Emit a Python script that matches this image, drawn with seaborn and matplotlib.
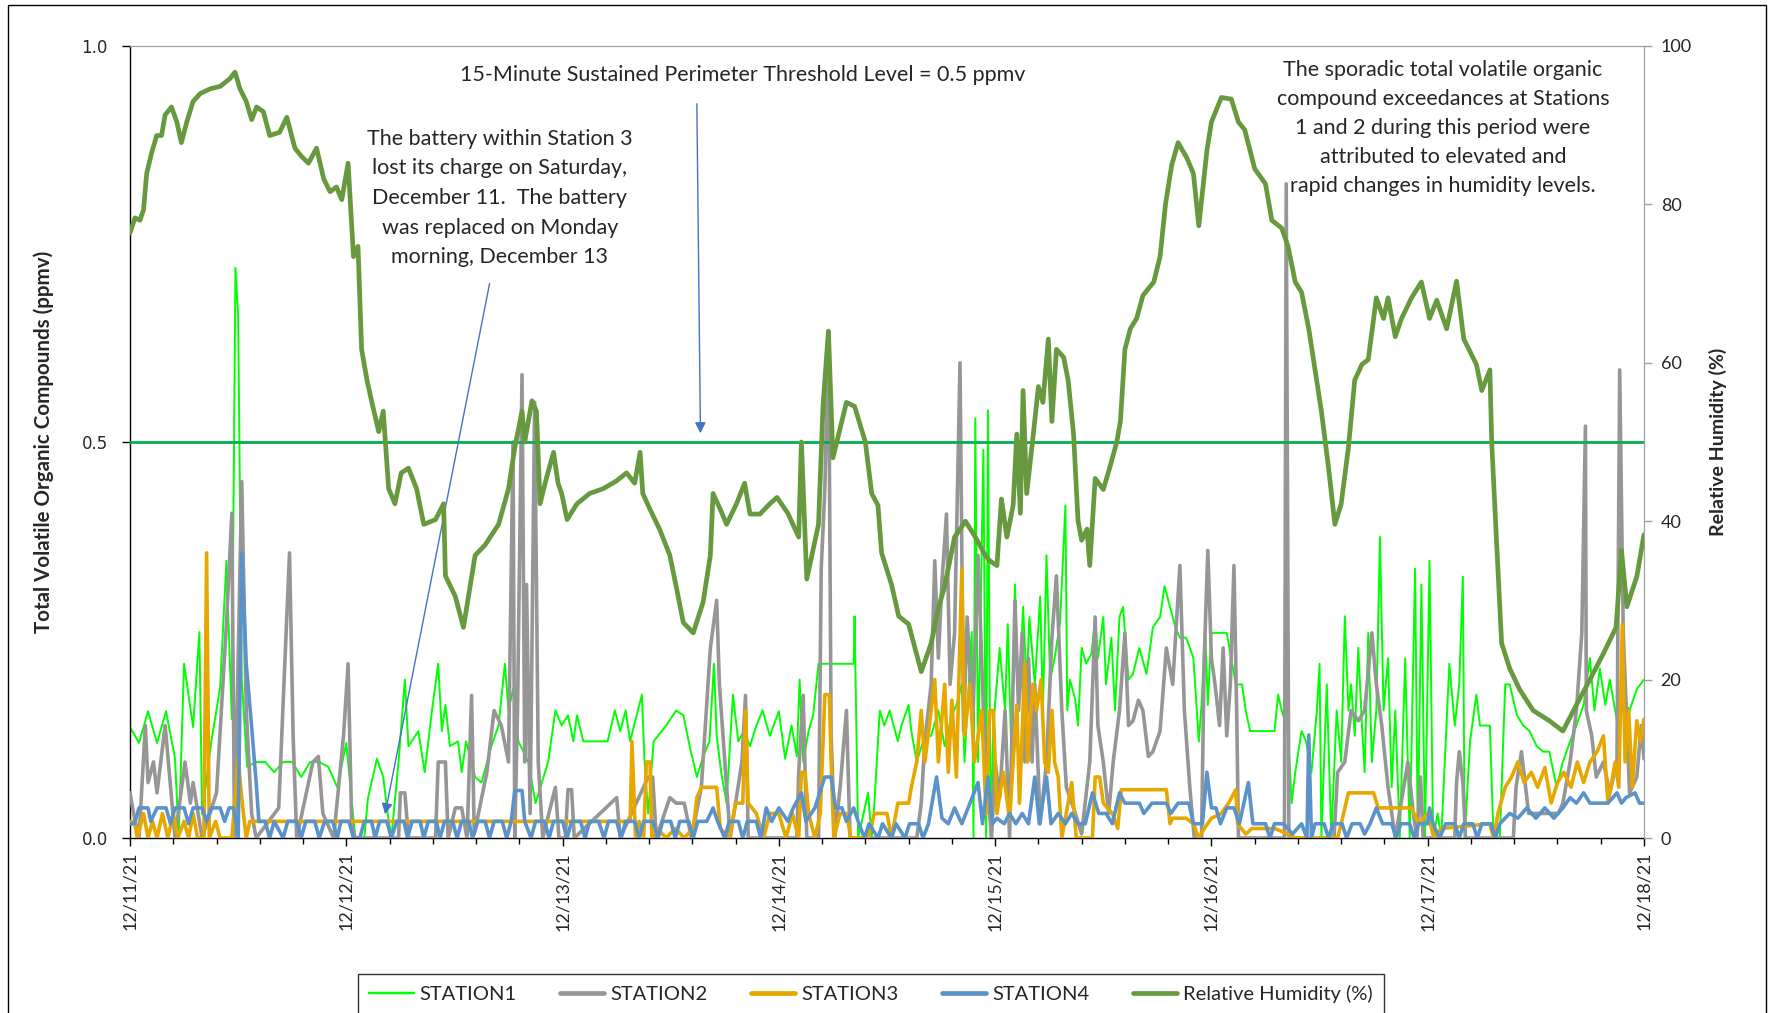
import matplotlib
matplotlib.use("Agg")
import matplotlib.pyplot as plt
from matplotlib.lines import Line2D
from matplotlib.patches import Rectangle
import pandas as pd
import seaborn as sns

sns.set_style("white")
plt.rcParams['font.family'] = ['Lato', 'DejaVu Sans']

# ---------------- data (hours after 12/11/21 00:00, value) ----------------
date_labels = ['12/11/21', '12/12/21', '12/13/21', '12/14/21',
               '12/15/21', '12/16/21', '12/17/21', '12/18/21']
threshold = 0.5

station1 = [
    (0, 0.14), (1, 0.12), (2, 0.16), (3, 0.12), (4, 0.16), (5, 0.10), (5.4, 0.0), (6, 0.22),
    (7, 0.14), (7.7, 0.26), (8, 0.03), (9, 0.12), (10, 0.19), (10.7, 0.35), (11.3, 0.15),
    (11.7, 0.72), (12, 0.66), (12.4, 0.20), (13, 0.09), (14, 0.096), (15, 0.096), (16, 0.083),
    (17, 0.096), (18, 0.096), (19, 0.077), (20, 0.096), (21, 0.096), (22, 0.09), (23, 0.064),
    (24, 0.12), (25, 0.0), (26, 0.0), (26.4, 0.05), (27.4, 0.10), (28.1, 0.077), (28.6, 0.03),
    (29, 0.0), (29.8, 0.096), (30.5, 0.20), (30.9, 0.116), (32, 0.135), (32.7, 0.083),
    (33.5, 0.16), (34.2, 0.22), (34.6, 0.135), (35, 0.168), (35.5, 0.116), (36.4, 0.122),
    (36.8, 0.083), (37.3, 0.122), (38.3, 0.077), (39, 0.07), (40.1, 0.116), (40.9, 0.142),
    (41.6, 0.22), (42, 0.161), (42.5, 0.188), (43.1, 0.122), (44.2, 0.096), (45, 0.044),
    (45.7, 0.07), (46.4, 0.096), (47.2, 0.161), (47.9, 0.142), (48.6, 0.155), (49.2, 0.122),
    (49.6, 0.155), (50.3, 0.122), (53, 0.122), (53.8, 0.161), (54.4, 0.135), (55, 0.161),
    (55.5, 0.122), (56.8, 0.181), (57.1, 0.096), (57.5, 0.031), (58.1, 0.122), (59.5, 0.142),
    (60.6, 0.161), (61.4, 0.155), (62.1, 0.116), (62.9, 0.077), (63.6, 0.103), (64.3, 0.122),
    (64.8, 0.22), (65.1, 0.129), (65.6, 0.083), (66.2, 0.044), (66.9, 0.181), (67.5, 0.122),
    (68.1, 0.135), (68.8, 0.116), (69.5, 0.142), (70.2, 0.161), (71, 0.129), (72, 0.16),
    (72.7, 0.10), (73.4, 0.142), (74, 0.103), (74.3, 0.20), (74.7, 0.096), (75.3, 0.135),
    (75.8, 0.155), (76.4, 0.22), (80.3, 0.22), (80.4, 0.28), (80.8, 0.0), (81.9, 0.057),
    (82.3, 0.0), (82.6, 0.044), (83.2, 0.161), (83.7, 0.142), (84.3, 0.161), (85.2, 0.122),
    (85.6, 0.142), (86.4, 0.168), (86.7, 0.135), (87.3, 0.096), (88.2, 0.129), (88.9, 0.129),
    (89.7, 0.161), (90.4, 0.116), (91.2, 0.155), (91.7, 0.168), (92.3, 0.194), (92.6, 0.096),
    (93.4, 0.26), (93.6, 0.0), (93.8, 0.53), (94.1, 0.096), (94.7, 0.49), (95, 0.0),
    (95.2, 0.54), (95.5, 0.0), (95.8, 0.142), (96.5, 0.24), (97.1, 0.161), (97.4, 0.27),
    (97.8, 0.109), (98.2, 0.32), (98.6, 0.161), (99.1, 0.292), (99.5, 0.194), (99.8, 0.279),
    (100.4, 0.194), (101, 0.305), (101.3, 0.161), (101.7, 0.357), (102.1, 0.2), (102.6, 0.227),
    (103.2, 0.272), (103.8, 0.42), (104, 0.161), (104.3, 0.2), (104.9, 0.174), (105.2, 0.142),
    (105.6, 0.24), (106.1, 0.22), (106.7, 0.233), (107.1, 0.279), (107.4, 0.227), (108, 0.279),
    (108.3, 0.194), (108.9, 0.253), (109.3, 0.161), (109.8, 0.279), (110.2, 0.292),
    (110.8, 0.2), (111.3, 0.207), (112, 0.24), (112.8, 0.207), (113.5, 0.266), (114.3, 0.279),
    (114.8, 0.318), (115.4, 0.292), (116, 0.266), (116.5, 0.253), (117.2, 0.253), (118, 0.227),
    (118.6, 0.122), (118.9, 0.168), (119.3, 0.266), (119.6, 0.168), (120, 0.259),
    (121.7, 0.259), (122.7, 0.194), (123.4, 0.194), (123.8, 0.161), (124.3, 0.135),
    (127, 0.135), (127.4, 0.181), (127.8, 0.161), (128.5, 0.135), (128.9, 0.044),
    (129.3, 0.083), (130, 0.135), (130.5, 0.122), (131.1, 0.083), (131.7, 0.161), (132, 0.22),
    (132.2, 0.0), (132.8, 0.194), (133.3, 0.0), (133.9, 0.161), (134.4, 0.096), (134.8, 0.28),
    (135.2, 0.161), (135.5, 0.194), (135.9, 0.129), (136.3, 0.24), (136.7, 0.142), (137, 0.083),
    (137.4, 0.259), (137.8, 0.096), (138.3, 0.161), (138.7, 0.38), (139.1, 0.161),
    (139.6, 0.227), (140, 0.064), (140.4, 0.161), (140.9, 0.0), (141.5, 0.227), (142, 0.0),
    (142.6, 0.34), (142.9, 0.0), (143.3, 0.32), (143.7, 0.0), (144.2, 0.35), (144.6, 0.0),
    (145.1, 0.031), (145.5, 0.0), (146.4, 0.22), (147, 0.142), (147.5, 0.194), (147.9, 0.33),
    (148.1, 0.0), (148.7, 0.122), (149.4, 0.181), (149.8, 0.142), (150.9, 0.142), (151.3, 0.0),
    (152, 0.0), (152.6, 0.194), (153.1, 0.194), (153.9, 0.155), (154.6, 0.142), (155.3, 0.135),
    (156.1, 0.116), (156.8, 0.109), (157.5, 0.109), (158.3, 0.064), (159, 0.096),
    (159.8, 0.122), (160.5, 0.142), (161.3, 0.168), (162, 0.227), (162.5, 0.161),
    (163.1, 0.214), (163.7, 0.168), (164.2, 0.2), (165, 0.148), (165.7, 0.174), (166.4, 0.161),
    (167.2, 0.188), (168, 0.2),
]

station2 = [
    (0, 0.057), (0.4, 0.031), (1, 0.0), (1.7, 0.142), (2, 0.07), (2.6, 0.096), (3, 0.057),
    (3.9, 0.142), (4.4, 0.077), (5, 0.0), (6.1, 0.096), (6.7, 0.044), (7, 0.07), (8, 0.0),
    (9.6, 0.057), (10.7, 0.27), (11.3, 0.41), (11.6, 0.0), (12.4, 0.45), (12.9, 0.16),
    (13.5, 0.031), (14, 0.0), (16.5, 0.038), (17.7, 0.36), (18.1, 0.129), (18.5, 0.0),
    (20.3, 0.096), (20.9, 0.103), (21.4, 0.031), (22.6, 0.0), (23.7, 0.13), (24.2, 0.22),
    (24.6, 0.018), (25, 0.0), (29.8, 0.0), (30, 0.057), (30.5, 0.057), (30.9, 0.0),
    (33.9, 0.0), (34.2, 0.096), (35, 0.096), (35.3, 0.0), (36.1, 0.038), (36.8, 0.038),
    (37.4, 0.0), (37.9, 0.18), (38.2, 0.005), (39.6, 0.083), (40.4, 0.161), (41.2, 0.142),
    (42, 0.096), (42.5, 0.5), (42.7, 0.0), (43, 0.161), (43.5, 0.585), (43.8, 0.096),
    (44, 0.32), (44.4, 0.031), (44.9, 0.55), (45.3, 0.096), (45.8, 0.0), (47.2, 0.064),
    (47.6, 0.0), (48.3, 0.0), (48.6, 0.061), (49.0, 0.061), (49.3, 0.0), (54, 0.051),
    (54.4, 0.0), (57.5, 0.077), (58, 0.077), (58.4, 0.0), (59.9, 0.051), (60.6, 0.044),
    (61.5, 0.044), (62.3, 0.0), (63.4, 0.064), (64.4, 0.24), (65.1, 0.30), (65.4, 0.194),
    (66, 0.096), (66.6, 0.0), (67.9, 0.096), (68.3, 0.18), (68.6, 0.0), (74, 0.0),
    (74.2, 0.083), (74.7, 0.18), (75.1, 0.0), (76.4, 0.0), (76.7, 0.34), (77.1, 0.44),
    (77.5, 0.64), (77.6, 0.49), (77.8, 0.129), (78.2, 0.0), (78.8, 0.064), (79.5, 0.161),
    (79.9, 0.0), (87.3, 0.0), (87.8, 0.044), (88.2, 0.122), (88.9, 0.194), (89.3, 0.35),
    (89.7, 0.227), (90.1, 0.324), (90.6, 0.409), (91, 0.194), (91.5, 0.259), (92.1, 0.6),
    (92.5, 0.135), (92.9, 0.279), (93.5, 0.142), (94.1, 0.357), (94.7, 0.161), (95, 0.096),
    (95.3, 0.044), (95.6, 0.0), (96, 0.096), (96.5, 0.051), (97.1, 0.161), (97.6, 0.0),
    (98.2, 0.30), (98.6, 0.161), (99, 0.259), (99.3, 0.096), (99.7, 0.227), (100.1, 0.096),
    (100.4, 0.194), (101, 0.018), (101.7, 0.096), (102.3, 0.253), (102.8, 0.331),
    (103.4, 0.161), (103.9, 0.064), (104.9, 0.031), (105.6, 0.005), (106.5, 0.096),
    (107.1, 0.279), (107.4, 0.142), (108, 0.096), (108.6, 0.031), (109.1, 0.096),
    (109.8, 0.161), (110.4, 0.259), (110.8, 0.142), (111.3, 0.148), (111.9, 0.174),
    (112.4, 0.161), (113, 0.103), (113.5, 0.109), (114.3, 0.135), (115, 0.24), (115.7, 0.194),
    (116.5, 0.344), (117, 0.161), (117.6, 0.064), (118.1, 0.0), (118.9, 0.0), (119.2, 0.227),
    (119.6, 0.363), (120, 0.227), (120.4, 0.194), (120.9, 0.142), (121.3, 0.24),
    (121.7, 0.129), (122.1, 0.194), (122.5, 0.344), (122.8, 0.161), (123, 0.0), (128.1, 0.0),
    (128.3, 0.826), (128.6, 0.0), (133.6, 0.0), (134, 0.083), (134.8, 0.096), (135.5, 0.161),
    (136.3, 0.148), (137, 0.161), (137.8, 0.259), (138.3, 0.194), (138.9, 0.142),
    (139.6, 0.064), (140.4, 0.0), (141.8, 0.096), (142.4, 0.031), (142.8, 0.0), (143.2, 0.077),
    (143.5, 0.0), (147, 0.0), (147.2, 0.07), (147.5, 0.109), (147.9, 0.07), (148.2, 0.0),
    (153.5, 0.0), (153.8, 0.064), (154.4, 0.109), (154.8, 0.07), (155.2, 0.031), (157, 0.031),
    (158.5, 0.031), (159, 0.044), (159.8, 0.096), (160.5, 0.161), (161.1, 0.259),
    (161.5, 0.52), (161.6, 0.161), (162.2, 0.129), (162.7, 0.077), (163.5, 0.096),
    (164.2, 0.057), (165, 0.096), (165.3, 0.591), (165.7, 0.259), (166.4, 0.057),
    (167.2, 0.077), (167.7, 0.142), (168, 0.10),
]

station3 = [
    (0, 0.021), (0.5, 0.021), (0.8, 0.0), (1.5, 0.031), (2, 0.0), (2.5, 0.021), (3, 0.0),
    (3.6, 0.031), (4.2, 0.0), (4.8, 0.031), (5.3, 0.0), (6, 0.021), (6.5, 0.0), (7, 0.031),
    (7.5, 0.0), (8.2, 0.0), (8.5, 0.36), (8.8, 0.0), (9.5, 0.021), (10, 0.0), (11.3, 0.0),
    (11.6, 0.04), (12, 0.10), (12.4, 0.05), (12.9, 0.0), (13.3, 0.021), (55.5, 0.021),
    (55.7, 0.122), (56.1, 0.0), (56.5, 0.021), (57.0, 0.0), (57.3, 0.096), (57.7, 0.096),
    (57.9, 0.0), (58.5, 0.012), (59.5, 0.0), (60.5, 0.012), (61.5, 0.0), (62.5, 0.012),
    (62.9, 0.051), (63.4, 0.064), (64.5, 0.064), (65.1, 0.064), (65.5, 0.012), (66.5, 0.0),
    (67.2, 0.044), (68, 0.044), (68.3, 0.161), (68.6, 0.044), (69.5, 0.031), (70.3, 0.0),
    (71, 0.031), (72, 0.031), (72.8, 0.0), (73.5, 0.031), (74.2, 0.0), (74.5, 0.083),
    (74.9, 0.083), (75.3, 0.031), (76, 0.0), (76.6, 0.031), (77.1, 0.181), (77.6, 0.181),
    (77.8, 0.096), (78.1, 0.0), (78.8, 0.031), (79.5, 0.031), (80, 0.0), (81.9, 0.0),
    (82.6, 0.031), (84, 0.031), (84.5, 0.0), (85.2, 0.044), (86.4, 0.044), (86.7, 0.064),
    (87.3, 0.096), (87.8, 0.161), (88.2, 0.096), (88.7, 0.142), (89.3, 0.2), (89.7, 0.096),
    (90.4, 0.194), (90.8, 0.083), (91.2, 0.174), (91.7, 0.077), (92.3, 0.34), (92.6, 0.129),
    (93.2, 0.194), (93.7, 0.096), (94.5, 0.161), (95, 0.031), (95.4, 0.161), (95.8, 0.161),
    (96.2, 0.031), (96.9, 0.083), (97.6, 0.025), (98.4, 0.168), (98.7, 0.044), (99.3, 0.22),
    (99.6, 0.096), (99.8, 0.135), (100.2, 0.194), (100.6, 0.161), (101.1, 0.2), (101.5, 0.096),
    (101.9, 0.083), (102.3, 0.161), (102.6, 0.096), (103, 0.077), (103.4, 0.0), (104.5, 0.07),
    (105, 0.0), (106.8, 0.0), (107.1, 0.077), (107.6, 0.077), (108, 0.044), (109, 0.031),
    (109.6, 0.012), (110, 0.061), (115, 0.061), (115.4, 0.018), (115.7, 0.025), (117.2, 0.025),
    (118, 0.018), (118.6, 0.0), (119.2, 0.012), (120, 0.025), (121.1, 0.031), (121.9, 0.044),
    (122.7, 0.061), (122.9, 0.018), (123.8, 0.005), (124.5, 0.012), (127, 0.012),
    (128.5, 0.005), (129.3, 0.0), (134, 0.0), (134.4, 0.018), (135.2, 0.057), (138, 0.057),
    (138.5, 0.038), (141, 0.038), (142.2, 0.038), (143, 0.018), (144, 0.031), (144.7, 0.0),
    (145.5, 0.012), (150.9, 0.018), (151.3, 0.0), (151.8, 0.031), (152.6, 0.064),
    (153.3, 0.077), (154, 0.096), (154.7, 0.07), (155.5, 0.083), (156.2, 0.064), (157, 0.089),
    (157.7, 0.044), (158.4, 0.07), (159.1, 0.083), (159.9, 0.064), (160.6, 0.096),
    (161.3, 0.07), (162, 0.096), (162.8, 0.109), (163.5, 0.129), (164, 0.044), (164.8, 0.096),
    (165.2, 0.064), (165.6, 0.27), (165.9, 0.096), (166.3, 0.161), (166.7, 0.064),
    (167.2, 0.148), (167.6, 0.122), (168, 0.15),
]

station4 = [
    (0, 0.018), (0.5, 0.018), (1, 0.038), (2, 0.038), (2.3, 0.021), (3, 0.038), (4, 0.038),
    (4.5, 0.018), (5, 0.038), (6, 0.038), (6.5, 0.018), (7, 0.038), (8, 0.038), (8.5, 0.021),
    (9, 0.038), (10, 0.038), (10.5, 0.021), (11, 0.038), (11.5, 0.038), (12, 0.0),
    (12.4, 0.36), (12.9, 0.22), (13.5, 0.14), (14, 0.07), (14.3, 0.021), (15, 0.021),
    (15.5, 0.0), (16, 0.021), (17, 0.0), (17.5, 0.021), (18.5, 0.021), (19, 0.0),
    (19.5, 0.021), (20.5, 0.021), (21, 0.0), (21.6, 0.021), (22.5, 0.021), (23, 0.0),
    (23.4, 0.021), (24.3, 0.021), (24.8, 0.0), (25.5, 0.0), (26, 0.021), (26.8, 0.021),
    (27.2, 0.0), (27.7, 0.021), (28.5, 0.021), (29, 0.0), (29.6, 0.021), (30.4, 0.021),
    (30.8, 0.0), (31.3, 0.021), (32.2, 0.021), (32.6, 0.0), (33.1, 0.021), (34, 0.021),
    (34.4, 0.0), (34.9, 0.021), (35.8, 0.021), (36.3, 0.0), (36.8, 0.021), (37.6, 0.021),
    (38, 0.0), (38.6, 0.021), (39.4, 0.021), (39.9, 0.0), (40.4, 0.021), (41.3, 0.021),
    (41.8, 0.0), (42.3, 0.021), (42.7, 0.06), (43.5, 0.06), (43.8, 0.021), (44.5, 0.0),
    (45, 0.021), (46, 0.021), (46.5, 0.0), (47, 0.021), (48, 0.021), (48.5, 0.0), (49, 0.021),
    (50, 0.021), (50.5, 0.0), (51, 0.021), (52, 0.021), (52.6, 0.0), (53.1, 0.021),
    (54, 0.021), (54.5, 0.0), (55, 0.021), (56, 0.021), (56.5, 0.0), (57, 0.021), (58, 0.021),
    (58.6, 0.0), (59.1, 0.021), (60, 0.021), (60.5, 0.0), (61, 0.021), (62, 0.021),
    (62.5, 0.0), (63, 0.021), (64, 0.021), (64.7, 0.038), (65.2, 0.021), (66, 0.0),
    (66.5, 0.021), (67.5, 0.021), (68, 0.0), (68.5, 0.021), (69.5, 0.021), (70, 0.0),
    (70.6, 0.038), (71.2, 0.021), (72, 0.038), (73, 0.021), (73.6, 0.038), (74.5, 0.057),
    (75, 0.021), (76, 0.038), (77.1, 0.077), (77.8, 0.077), (78.3, 0.038), (79, 0.038),
    (79.5, 0.021), (80.3, 0.038), (80.8, 0.021), (81.5, 0.0), (82, 0.018), (83, 0.0),
    (83.5, 0.018), (84.5, 0.0), (85, 0.018), (86, 0.0), (86.5, 0.018), (87.5, 0.018),
    (88, 0.0), (88.6, 0.018), (89.5, 0.077), (90.1, 0.025), (90.8, 0.018), (91.5, 0.038),
    (92.3, 0.018), (93, 0.038), (94.1, 0.07), (94.6, 0.018), (95.2, 0.077), (95.7, 0.018),
    (96.2, 0.025), (97, 0.018), (97.6, 0.031), (98.3, 0.018), (99, 0.031), (99.7, 0.018),
    (100.4, 0.077), (100.9, 0.018), (101.7, 0.077), (102.2, 0.018), (103, 0.031),
    (103.8, 0.018), (104.5, 0.031), (105.2, 0.018), (106, 0.018), (106.8, 0.057),
    (107.5, 0.031), (108.3, 0.031), (109, 0.018), (109.8, 0.057), (110.4, 0.044), (112, 0.044),
    (112.5, 0.031), (113.4, 0.044), (115, 0.044), (115.5, 0.031), (116.3, 0.044),
    (117.5, 0.044), (118, 0.018), (119, 0.018), (119.5, 0.083), (120, 0.038), (120.5, 0.038),
    (121, 0.018), (121.7, 0.038), (122.5, 0.038), (123.1, 0.018), (124.1, 0.07),
    (124.6, 0.018), (126, 0.018), (126.5, 0.0), (127, 0.018), (128, 0.018), (129, 0.005),
    (130, 0.018), (130.6, 0.0), (130.8, 0.13), (131.1, 0.0), (131.5, 0.018), (132.5, 0.018),
    (133, 0.0), (133.5, 0.018), (134.5, 0.018), (135, 0.0), (135.6, 0.018), (136.5, 0.018),
    (137, 0.005), (137.6, 0.018), (138.3, 0.038), (139, 0.018), (140, 0.018), (140.5, 0.0),
    (141, 0.018), (142, 0.018), (142.5, 0.0), (143, 0.018), (144, 0.018), (144.2, 0.038),
    (144.6, 0.018), (145.3, 0.0), (146, 0.018), (147, 0.018), (147.5, 0.0), (148, 0.018),
    (149, 0.018), (149.5, 0.0), (150, 0.018), (151, 0.018), (151.5, 0.0), (152, 0.018),
    (153.1, 0.031), (154, 0.025), (155, 0.038), (156, 0.025), (157, 0.038), (158, 0.025),
    (159, 0.038), (159.8, 0.051), (160.5, 0.044), (161.3, 0.057), (162, 0.044), (163, 0.044),
    (164, 0.044), (165, 0.057), (165.5, 0.044), (166, 0.051), (167, 0.057), (167.5, 0.044),
    (168, 0.044),
]

humidity = [
    (0, 76.4), (0.55, 78.3), (1.1, 78.0), (1.5, 79.3), (1.85, 83.9), (2.4, 86.5), (2.96, 88.7),
    (3.5, 88.7), (3.9, 91.3), (4.6, 92.3), (5.2, 90.4), (5.7, 87.8), (6.3, 90.4), (7.0, 93.0),
    (7.8, 94.0), (8.9, 94.6), (10.0, 94.9), (11.1, 95.9), (11.65, 96.7), (12.2, 94.6),
    (12.9, 93.0), (13.5, 90.7), (14.05, 92.3), (14.8, 91.7), (15.5, 88.7), (16.6, 89.1),
    (17.4, 91.0), (18.3, 87.1), (19.0, 86.1), (19.8, 85.2), (20.7, 87.1), (21.5, 83.2),
    (22.2, 81.6), (22.9, 82.2), (23.5, 80.6), (24.2, 85.2), (24.8, 73.4), (25.3, 74.7),
    (25.7, 61.7), (26.3, 57.8), (26.8, 55.2), (27.6, 51.3), (28.1, 53.9), (28.7, 44.1),
    (29.4, 42.2), (30.1, 46.1), (30.9, 46.7), (31.8, 44.1), (32.6, 39.6), (33.9, 40.2),
    (34.8, 42.2), (35.0, 33.1), (36.1, 30.5), (37.0, 26.6), (38.3, 35.7), (39.4, 37.0),
    (40.9, 39.6), (42.0, 44.1), (42.7, 49.3), (43.5, 53.9), (43.8, 50.0), (44.6, 55.2),
    (45.1, 53.9), (45.5, 42.2), (46.2, 45.4), (47.0, 48.7), (47.5, 44.8), (47.9, 43.5),
    (48.5, 40.2), (49.6, 42.2), (51.0, 43.5), (52.5, 44.1), (54.0, 45.1), (55.1, 46.1),
    (56.0, 44.8), (56.6, 48.7), (56.9, 43.5), (57.7, 41.5), (58.8, 38.9), (59.9, 35.7),
    (60.6, 31.8), (61.4, 27.2), (62.5, 25.9), (63.6, 29.8), (64.4, 35.7), (64.7, 43.5),
    (65.5, 41.5), (66.2, 39.6), (67.3, 42.2), (68.2, 44.8), (68.8, 40.9), (69.9, 40.9),
    (71.0, 42.2), (71.8, 43.0), (73.0, 41.0), (74.2, 38.0), (74.5, 50.0), (75.1, 32.7),
    (76.4, 39.6), (76.9, 54.6), (77.5, 64.0), (78.0, 48.0), (79.5, 55.0), (80.4, 54.5),
    (81.6, 50.0), (82.3, 43.5), (83.0, 42.0), (83.4, 36.0), (84.5, 32.0), (85.3, 28.0),
    (86.4, 27.0), (87.8, 21.0), (88.9, 24.6), (89.7, 29.0), (90.4, 31.8), (91.5, 38.0),
    (92.7, 40.0), (93.8, 38.0), (94.9, 35.7), (95.4, 35.0), (96.2, 34.4), (96.7, 42.8),
    (97.3, 38.0), (98.0, 42.0), (98.4, 51.0), (98.8, 41.0), (99.1, 56.5), (99.5, 43.5),
    (100.2, 50.6), (100.8, 57.0), (101.3, 55.0), (101.9, 63.0), (102.3, 52.6), (102.8, 61.7),
    (103.6, 60.7), (104.1, 57.8), (104.7, 51.0), (105.2, 40.0), (105.6, 37.6), (106.2, 39.0),
    (106.5, 34.4), (107.1, 45.4), (108.0, 44.0), (108.7, 46.7), (109.5, 50.0), (109.9, 52.6),
    (110.4, 61.7), (111.0, 64.3), (111.7, 65.6), (112.4, 68.5), (113.6, 70.2), (114.3, 73.4),
    (114.9, 80.0), (115.6, 85.0), (116.3, 87.8), (117.3, 85.8), (118.0, 83.9), (118.6, 77.3),
    (119.1, 82.6), (119.5, 86.8), (120.0, 90.4), (121.1, 93.5), (122.2, 93.3), (123.0, 90.4),
    (123.7, 89.4), (124.8, 84.5), (126.0, 82.6), (126.7, 78.0), (127.8, 77.0), (128.5, 74.7),
    (129.3, 70.2), (130.0, 68.9), (130.8, 64.3), (131.5, 59.1), (132.2, 53.9), (133.0, 46.7),
    (133.7, 39.6), (134.4, 42.2), (135.2, 49.3), (135.9, 57.8), (136.7, 59.8), (137.4, 60.4),
    (138.3, 68.2), (139.1, 65.6), (139.6, 68.2), (140.4, 63.3), (141.1, 65.6), (142.2, 68.2),
    (143.3, 70.2), (144.2, 65.6), (145.0, 67.9), (146.1, 64.3), (147.2, 70.3), (148.0, 63.0),
    (149.4, 59.8), (150.0, 56.5), (150.9, 59.1), (151.1, 50.0), (151.6, 38.3), (152.2, 24.6),
    (153.1, 21.4), (154.2, 18.75), (155.7, 16.1), (157.5, 14.8), (159.0, 13.5), (160.5, 16.8),
    (162.0, 20.0), (163.5, 23.3), (164.9, 26.6), (165.5, 36.3), (166.1, 29.2), (167.2, 33.0),
    (168.0, 38.3),
]

series_names = ['STATION1', 'STATION2', 'STATION3', 'STATION4']
series_colors = ['#00FF00', '#969696', '#E6A800', '#5B93C9']
series_widths = [1.4, 2.6, 2.6, 2.6]
hum_color = '#679A3E'
thr_color = '#00B050'
arrow_color = '#4472C4'


def to_frame(pairs):
    df = pd.DataFrame(pairs, columns=['hour', 'value'])
    df['day'] = df['hour'] / 24.0
    return df


W, H = 1774, 1013
fig = plt.figure(figsize=(W / 100, H / 100), dpi=100)
left, right, top, bottom = 130, 1644, 46, 838
ax = fig.add_axes([left / W, 1 - bottom / H, (right - left) / W, (bottom - top) / H])
ax2 = ax.twinx()

for i, (name, data) in enumerate(zip(series_names, [station1, station2, station3, station4])):
    df = to_frame(data)
    sns.lineplot(data=df, x='day', y='value', ax=ax, color=series_colors[i],
                 linewidth=series_widths[i], estimator=None, legend=False, zorder=2 + i)

ax.axhline(threshold, color=thr_color, linewidth=2.0, zorder=8)

hdf = to_frame(humidity)
sns.lineplot(data=hdf, x='day', y='value', ax=ax2, color=hum_color, linewidth=3.4,
             estimator=None, legend=False)

# axes formatting
ax.set_xlim(0, 7)
ax.set_ylim(0, 1.0)
ax2.set_ylim(0, 100)
ax.set_xticks(range(8))
ax.set_xticklabels(date_labels, rotation=90, fontsize=13)
ax.set_xticks([d / 5 for d in range(36)], minor=True)
ax.set_yticks([0.0, 0.5, 1.0])
ax.set_yticklabels(['0.0', '0.5', '1.0'], fontsize=12, family='DejaVu Sans')
ax2.set_yticks(range(0, 101, 20))
ax2.set_yticklabels([str(v) for v in range(0, 101, 20)], fontsize=13)
ax.set_xlabel('')
ax.set_ylabel('Total Volatile Organic Compounds (ppmv)', fontsize=14.8, fontweight='bold',
              family=['Liberation Sans Narrow', 'Lato'], labelpad=20)
ax2.set_ylabel('Relative Humidity (%)', fontsize=14, fontweight='bold', labelpad=12)

ax.tick_params(axis='both', which='major', direction='out', length=6, width=1,
               color='black', pad=4, left=True, bottom=True)
ax.tick_params(axis='x', which='minor', direction='out', length=4, width=1, color='black',
               bottom=True)
ax.tick_params(axis='y', pad=10)
ax2.tick_params(axis='y', direction='out', length=6, width=1, color='#A0A0A0', pad=6,
                right=True)
for sp in ['left', 'bottom']:
    ax.spines[sp].set_color('black')
    ax.spines[sp].set_linewidth(1.0)
ax.spines['top'].set_color('#A0A0A0')
ax.spines['right'].set_color('#A0A0A0')
ax2.spines['top'].set_color('#A0A0A0')
ax2.spines['right'].set_color('#A0A0A0')
ax2.spines['left'].set_visible(False)
ax2.spines['bottom'].set_visible(False)

# annotations
fig.text(743 / W, 1 - 75 / H, '15-Minute Sustained Perimeter Threshold Level = 0.5 ppmv',
         ha='center', va='center', fontsize=15.5)
fig.text(500 / W, 1 - 198 / H,
         'The battery within Station 3\nlost its charge on Saturday,\n'
         'December 11.  The battery\nwas replaced on Monday\nmorning, December 13',
         ha='center', va='center', fontsize=15.5, linespacing=1.6)
fig.text(1443 / W, 1 - 128 / H,
         'The sporadic total volatile organic\ncompound exceedances at Stations\n'
         '1 and 2 during this period were\nattributed to elevated and\n'
         'rapid changes in humidity levels.',
         ha='center', va='center', fontsize=15.5, linespacing=1.55)

arrow_kw = dict(arrowstyle='-|>', color=arrow_color, lw=1.0, mutation_scale=16,
                shrinkA=0, shrinkB=0)
ax.annotate('', xy=(63.3 / 24, 0.511), xytext=(62.9 / 24, 0.927),
            arrowprops=arrow_kw, annotation_clip=False, zorder=20)
ax.annotate('', xy=(28.3 / 24, 0.03), xytext=(39.9 / 24, 0.70),
            arrowprops=arrow_kw, annotation_clip=False, zorder=20)

# legend
handles = [Line2D([], [], color=c, lw=w + (0.8 if w > 2 else 0.4))
           for c, w in zip(series_colors, series_widths)]
handles.append(Line2D([], [], color=hum_color, lw=3.4))
labels = series_names + ['Relative Humidity (%)']
leg = fig.legend(handles, labels, loc='upper center', bbox_to_anchor=(871 / W, 1 - 964 / H),
                 ncol=5, frameon=True, fancybox=False, edgecolor='black', fontsize=14.5,
                 handlelength=2.2, handletextpad=0.3, columnspacing=2.15, borderpad=0.55)
leg.get_frame().set_linewidth(1.0)

# outer chart border
fig.patches.append(Rectangle((8 / W, -0.05), (W - 16) / W, 1.05 - 5 / H,
                             transform=fig.transFigure, fill=False, edgecolor='black',
                             linewidth=1.0))

fig.savefig('out.png', dpi=100)
